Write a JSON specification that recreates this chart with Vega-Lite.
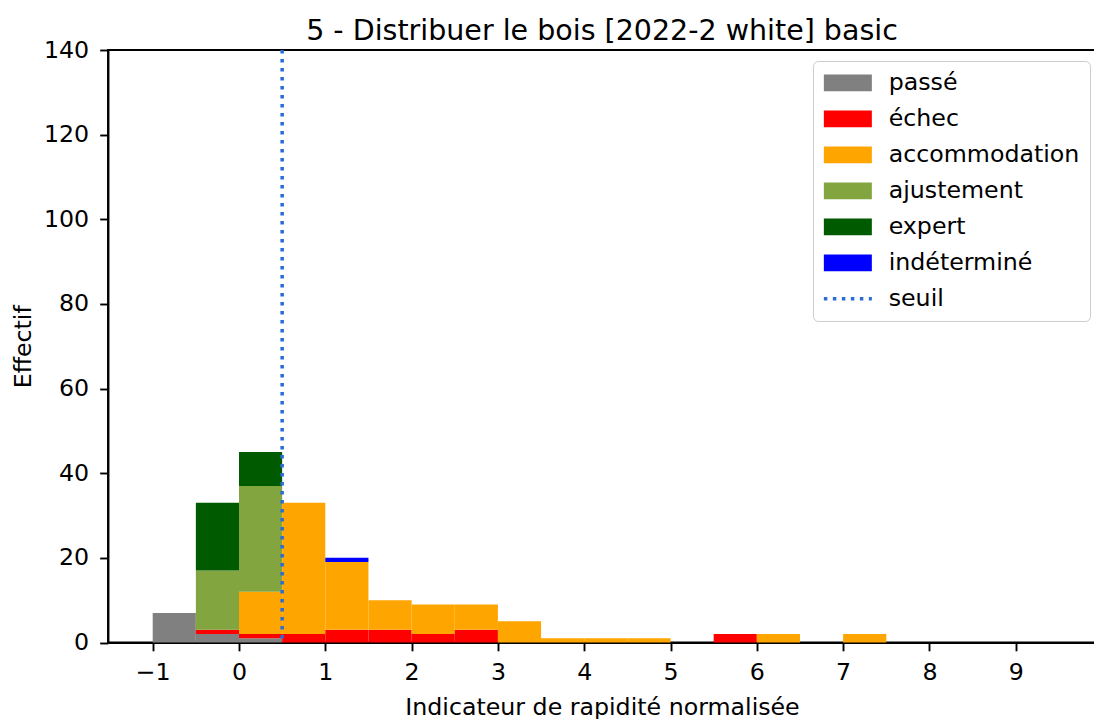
{
  "$schema": "https://vega.github.io/schema/vega-lite/v6.json",
  "autosize": {"type": "none"},
  "padding": {"left": 108, "top": 50, "right": 0, "bottom": 77},
  "width": 988,
  "height": 592.5,
  "background": "white",
  "title": {
    "text": "5 - Distribuer le bois [2022-2 white] basic",
    "font": "DejaVu Sans",
    "fontSize": 28.5,
    "fontWeight": "normal",
    "color": "#000000",
    "anchor": "middle",
    "frame": "group",
    "baseline": "alphabetic",
    "offset": 0,
    "dy": 30
  },
  "config": {
    "font": "DejaVu Sans",
    "view": {"stroke": "#000000", "strokeWidth": 1.9},
    "axis": {
      "grid": false,
      "domainColor": "#000000",
      "domainWidth": 1.9,
      "tickColor": "#000000",
      "tickWidth": 1.9,
      "tickSize": 8.3,
      "labelFont": "DejaVu Sans",
      "labelFontSize": 23.7,
      "labelColor": "#000000",
      "titleFont": "DejaVu Sans",
      "titleFontSize": 23.7,
      "titleFontWeight": "normal",
      "titleColor": "#000000"
    }
  },
  "datasets": {
    "categories": [
      {"cat": "passé", "rank": 1},
      {"cat": "échec", "rank": 2},
      {"cat": "accommodation", "rank": 3},
      {"cat": "ajustement", "rank": 4},
      {"cat": "expert", "rank": 5},
      {"cat": "indéterminé", "rank": 6}
    ]
  },
  "layer": [
    {
      "data": {
        "values": [
          {"x0": -1, "x1": -0.5, "cat": "passé", "n": 7},
          {"x0": -0.5, "x1": 0, "cat": "passé", "n": 2},
          {"x0": -0.5, "x1": 0, "cat": "échec", "n": 1},
          {"x0": -0.5, "x1": 0, "cat": "ajustement", "n": 14},
          {"x0": -0.5, "x1": 0, "cat": "expert", "n": 16},
          {"x0": 0, "x1": 0.5, "cat": "passé", "n": 1},
          {"x0": 0, "x1": 0.5, "cat": "échec", "n": 1},
          {"x0": 0, "x1": 0.5, "cat": "accommodation", "n": 10},
          {"x0": 0, "x1": 0.5, "cat": "ajustement", "n": 25},
          {"x0": 0, "x1": 0.5, "cat": "expert", "n": 8},
          {"x0": 0.5, "x1": 1, "cat": "échec", "n": 2},
          {"x0": 0.5, "x1": 1, "cat": "accommodation", "n": 31},
          {"x0": 1, "x1": 1.5, "cat": "échec", "n": 3},
          {"x0": 1, "x1": 1.5, "cat": "accommodation", "n": 16},
          {"x0": 1, "x1": 1.5, "cat": "indéterminé", "n": 1},
          {"x0": 1.5, "x1": 2, "cat": "échec", "n": 3},
          {"x0": 1.5, "x1": 2, "cat": "accommodation", "n": 7},
          {"x0": 2, "x1": 2.5, "cat": "échec", "n": 2},
          {"x0": 2, "x1": 2.5, "cat": "accommodation", "n": 7},
          {"x0": 2.5, "x1": 3, "cat": "échec", "n": 3},
          {"x0": 2.5, "x1": 3, "cat": "accommodation", "n": 6},
          {"x0": 3, "x1": 3.5, "cat": "accommodation", "n": 5},
          {"x0": 3.5, "x1": 4, "cat": "accommodation", "n": 1},
          {"x0": 4, "x1": 4.5, "cat": "accommodation", "n": 1},
          {"x0": 4.5, "x1": 5, "cat": "accommodation", "n": 1},
          {"x0": 5.5, "x1": 6, "cat": "échec", "n": 2},
          {"x0": 6, "x1": 6.5, "cat": "accommodation", "n": 2},
          {"x0": 7, "x1": 7.5, "cat": "accommodation", "n": 2}
        ]
      },
      "transform": [
        {"lookup": "cat", "from": {"data": {"name": "categories"}, "key": "cat", "fields": ["rank"]}},
        {"stack": "n", "groupby": ["x0"], "sort": [{"field": "rank", "order": "ascending"}], "as": ["y0", "y1"]}
      ],
      "mark": {"type": "bar", "strokeWidth": 0},
      "encoding": {
        "x": {
          "field": "x0",
          "type": "quantitative",
          "scale": {"domain": [-1.518, 9.93], "nice": false, "zero": false},
          "axis": {
            "values": [-1, 0, 1, 2, 3, 4, 5, 6, 7, 8, 9],
            "format": "d",
            "labelPadding": 10,
            "title": "Indicateur de rapidité normalisée",
            "titlePadding": 11
          }
        },
        "x2": {"field": "x1"},
        "y": {
          "field": "y1",
          "type": "quantitative",
          "scale": {"domain": [0, 140], "nice": false},
          "axis": {
            "values": [0, 20, 40, 60, 80, 100, 120, 140],
            "labelPadding": 11,
            "title": "Effectif",
            "titlePadding": 8
          }
        },
        "y2": {"field": "y0"},
        "color": {
          "field": "cat",
          "type": "nominal",
          "scale": {
            "domain": ["passé", "échec", "accommodation", "ajustement", "expert", "indéterminé", "seuil"],
            "range": ["#808080", "#ff0000", "#ffa500", "#82a540", "#005a00", "#0000ff", "#2b6cd4"]
          },
          "legend": {
            "title": null,
            "orient": "none",
            "legendX": 705,
            "legendY": 11,
            "padding": 10,
            "rowPadding": 11,
            "symbolSize": 256,
            "symbolOffset": 13,
            "labelOffset": 29,
            "labelLimit": 400,
            "labelFont": "DejaVu Sans",
            "labelFontSize": 23.7,
            "labelColor": "#000000",
            "strokeColor": "#cccccc",
            "fillColor": "rgba(255,255,255,0.8)",
            "cornerRadius": 5,
            "encode": {
              "symbols": {
                "update": {
                  "shape": {"signal": "datum.value === 'seuil' ? 'M-3,0H3' : 'M-3,-1.04H3V1.04H-3Z'"},
                  "fill": {"signal": "datum.value === 'seuil' ? 'transparent' : scale('color', datum.value)"},
                  "stroke": {"signal": "datum.value === 'seuil' ? scale('color', datum.value) : 'transparent'"},
                  "strokeDash": {"signal": "datum.value === 'seuil' ? [3.5, 5.5] : [1, 0]"},
                  "strokeWidth": {"signal": "datum.value === 'seuil' ? 3.5 : 0"},
                  "opacity": {"value": 1}
                }
              }
            }
          }
        }
      }
    },
    {
      "data": {"values": [{"seuil": 0.5, "cat": "seuil"}]},
      "mark": {"type": "rule", "strokeWidth": 3.5, "strokeDash": [3.5, 5.5]},
      "encoding": {
        "x": {"field": "seuil", "type": "quantitative"},
        "color": {"field": "cat", "type": "nominal"}
      }
    }
  ]
}
